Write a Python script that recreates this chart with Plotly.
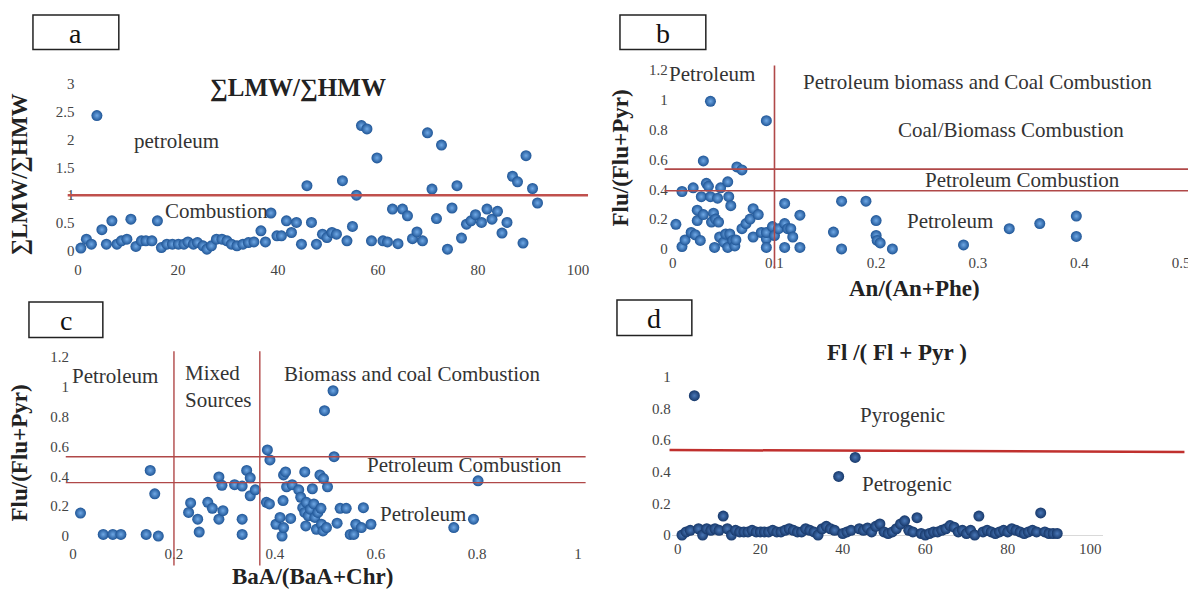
import plotly.graph_objects as go

W, H = 1196, 600
OFF = 8                      # default page margin of the html body
FW, FH = W - OFF, H - OFF
SERIF = "Liberation Serif"

# ---------------- data ----------------
# panel a : sum LMW / sum HMW per sample
a_x = [0.6, 1.7, 2.7, 3.8, 4.8, 5.7, 6.8, 7.8, 8.7, 9.8, 10.6, 11.6, 12.7, 13.6, 14.8, 15.9,
       16.7, 17.8, 18.9, 20.1, 21.2, 22.0, 23.1, 23.9, 25.0, 25.8, 26.7, 27.7, 28.8, 29.8, 30.7,
       31.8, 33.0, 34.1, 35.2, 36.6, 37.5, 38.6, 39.8, 40.7, 41.7, 42.7, 43.7, 44.7, 45.8, 46.7,
       47.7, 48.9, 49.8, 50.8, 51.7, 52.9, 53.8, 54.9, 55.7, 56.7, 57.8, 58.7, 59.8, 61.0, 61.9,
       62.9, 64.0, 64.9, 65.9, 66.9, 67.8, 68.9, 69.9, 70.8, 71.7, 72.7, 73.9, 74.8, 75.8, 76.7,
       77.7, 78.6, 79.5, 80.7, 81.8, 82.8, 83.9, 84.8, 85.8, 86.9, 87.9, 89.0, 89.6, 90.9, 91.9]
a_y = [0.05, 0.21, 0.12, 2.43, 0.38, 0.12, 0.54, 0.12, 0.18, 0.21, 0.57, 0.08, 0.18, 0.18, 0.18, 0.54,
       0.06, 0.12, 0.12, 0.12, 0.12, 0.16, 0.12, 0.15, 0.09, 0.03, 0.09, 0.21, 0.21, 0.18, 0.12,
       0.09, 0.12, 0.15, 0.16, 0.36, 0.16, 0.68, 0.27, 0.27, 0.54, 0.33, 0.51, 0.12, 1.17, 0.51,
       0.12, 0.30, 0.24, 0.33, 0.30, 1.26, 0.18, 0.44, 1.00, 2.25, 2.19, 0.18, 1.67, 0.18, 0.16,
       0.75, 0.13, 0.75, 0.63, 0.22, 0.34, 0.18, 2.12, 1.11, 0.58, 1.90, 0.03, 0.77, 1.17, 0.23,
       0.48, 0.54, 0.65, 0.51, 0.75, 0.57, 0.71, 0.32, 0.51, 1.34, 1.24, 0.14, 1.71, 1.12, 0.86]

# panel b : An/(An+Phe) vs Flu/(Flu+Pyr)
b_x = [0.003, 0.009, 0.009, 0.012, 0.018, 0.020, 0.022, 0.024, 0.024, 0.027, 0.028, 0.030, 0.030,
       0.033, 0.035, 0.037, 0.037, 0.038, 0.040, 0.041, 0.042, 0.044, 0.045, 0.046, 0.047, 0.050,
       0.052, 0.054, 0.054, 0.055, 0.056, 0.057, 0.059, 0.061, 0.062, 0.063, 0.068, 0.068, 0.072,
       0.076, 0.079, 0.079, 0.084, 0.087, 0.092, 0.092, 0.092, 0.092, 0.098, 0.100, 0.104, 0.110,
       0.110, 0.110, 0.113, 0.116, 0.118, 0.125, 0.125, 0.158, 0.166, 0.166, 0.190, 0.200, 0.200,
       0.201, 0.204, 0.216, 0.286, 0.331, 0.361, 0.397, 0.397]
b_y = [0.165, 0.385, 0.016, 0.060, 0.110, 0.410, 0.095, 0.260, 0.190, 0.057, 0.350, 0.590, 0.230,
       0.440, 0.420, 0.990, 0.350, 0.180, 0.240, 0.010, 0.200, 0.340, 0.180, 0.080, 0.410, 0.045,
       0.100, 0.450, 0.010, 0.350, 0.100, 0.290, 0.057, 0.020, 0.060, 0.550, 0.530, 0.136, 0.170,
       0.200, 0.080, 0.270, 0.230, 0.110, 0.860, 0.068, 0.010, 0.110, 0.150, 0.090, 0.136, 0.305,
       0.010, 0.170, 0.136, 0.136, 0.080, 0.226, 0.010, 0.113, 0.320, 0.000, 0.320, 0.190, 0.090,
       0.057, 0.040, 0.000, 0.027, 0.136, 0.170, 0.220, 0.084]

# panel c : BaA/(BaA+Chr) vs Flu/(Flu+Pyr)
c_x = [0.015, 0.060, 0.079, 0.095, 0.145, 0.153, 0.162, 0.169, 0.229, 0.233, 0.247, 0.250, 0.267,
       0.276, 0.289, 0.289, 0.295, 0.297, 0.320, 0.335, 0.335, 0.335, 0.344, 0.351, 0.351, 0.361,
       0.383, 0.385, 0.389, 0.390, 0.402, 0.410, 0.414, 0.416, 0.417, 0.417, 0.421, 0.423, 0.431,
       0.434, 0.447, 0.451, 0.459, 0.455, 0.459, 0.461, 0.462, 0.466, 0.470, 0.474, 0.477, 0.479,
       0.482, 0.485, 0.489, 0.491, 0.492, 0.495, 0.496, 0.498, 0.504, 0.502, 0.515, 0.517, 0.523,
       0.529, 0.541, 0.549, 0.556, 0.560, 0.571, 0.575, 0.590, 0.754, 0.793, 0.802]
c_y = [0.154, 0.011, 0.011, 0.011, 0.011, 0.440, 0.283, 0.000, 0.158, 0.222, 0.113, 0.027, 0.226,
       0.186, 0.396, 0.113, 0.340, 0.170, 0.344, 0.335, 0.113, 0.011, 0.440, 0.390, 0.270, 0.310,
       0.226, 0.577, 0.215, 0.510, 0.079, 0.125, 0.000, 0.238, 0.057, 0.410, 0.430, 0.330, 0.118,
       0.344, 0.310, 0.260, 0.430, 0.190, 0.158, 0.068, 0.226, 0.136, 0.180, 0.317, 0.215, 0.125,
       0.045, 0.158, 0.410, 0.186, 0.079, 0.034, 0.385, 0.840, 0.330, 0.057, 0.974, 0.532, 0.086,
       0.186, 0.186, 0.011, 0.011, 0.079, 0.057, 0.190, 0.079, 0.057, 0.113, 0.370]

# panel d : Fl/(Fl+Pyr) per sample
d_x = list(range(1, 93))
d_y = [0.00, 0.02, 0.03, 0.88, 0.04, 0.00, 0.04, 0.03, 0.04, 0.03, 0.12, 0.04, 0.00, 0.03, 0.02,
       0.02, 0.02, 0.03, 0.02, 0.02, 0.02, 0.02, 0.03, 0.02, 0.02, 0.03, 0.04, 0.03, 0.02, 0.02,
       0.04, 0.03, 0.02, 0.00, 0.04, 0.055, 0.04, 0.03, 0.37, 0.01, 0.02, 0.03, 0.49, 0.04, 0.03,
       0.045, 0.02, 0.055, 0.07, 0.02, 0.01, 0.02, 0.04, 0.07, 0.09, 0.03, 0.02, 0.11, 0.01, 0.00,
       0.01, 0.02, 0.02, 0.03, 0.04, 0.06, 0.05, 0.02, 0.03, 0.01, 0.03, 0.00, 0.12, 0.02, 0.03,
       0.02, 0.01, 0.02, 0.03, 0.02, 0.04, 0.03, 0.02, 0.01, 0.02, 0.03, 0.02, 0.14, 0.02, 0.01,
       0.01, 0.01]

# thresholds
a_line = 1.0
b_vline = 0.1
b_hlines = [0.535, 0.39]
c_vlines = [0.2, 0.37]
c_hlines = [0.532, 0.358]
d_line = (0.537, 0.525)


# ---------------- figure ----------------
def px(x):
    return (x - OFF) / FW


def py(y):
    return 1 - (y - OFF) / FH


fig = go.Figure()


def add_pts(x, y, xa, ya, edge, center):
    fig.add_trace(go.Scatter(
        x=x, y=y, mode="markers", xaxis=xa, yaxis=ya, cliponaxis=False,
        marker=dict(size=11, color=edge, line=dict(width=0),
                    gradient=dict(type="radial", color=center)),
        showlegend=False, hoverinfo="skip"))


BLUE_E, BLUE_C = "#1f5596", "#70a9e6"
NAVY_E, NAVY_C = "#17386a", "#4a78b8"
add_pts(a_x, a_y, "x", "y", BLUE_E, BLUE_C)
add_pts(b_x, b_y, "x2", "y2", BLUE_E, BLUE_C)
add_pts(c_x, c_y, "x3", "y3", BLUE_E, BLUE_C)
add_pts(d_x, d_y, "x4", "y4", NAVY_E, NAVY_C)

tickf = dict(family=SERIF, size=15, color="#444")


def ax(domain, rng, dtick, anchor, **kw):
    d = dict(domain=domain, range=rng, dtick=dtick, tick0=0, anchor=anchor, showgrid=False,
             zeroline=False, showline=False, ticks="", tickfont=tickf, fixedrange=True,
             ticklabeloverflow="allow")
    d.update(kw)
    return d


layout = dict(
    width=FW, height=FH, margin=dict(l=0, r=0, t=0, b=0),
    paper_bgcolor="white", plot_bgcolor="white",
    xaxis=ax([px(74.5), px(588)], [-0.5, 102], 20, "y"),
    yaxis=ax([py(257.9), py(77.2)], [-0.14, 3.05], 0.5, "x"),
    xaxis2=ax([px(668.9), px(1193.2)], [-0.004, 0.511], 0.1, "y2"),
    yaxis2=ax([py(251), py(61.4)], [-0.02, 1.23], 0.2, "x2"),
    xaxis3=ax([px(69), px(585.6)], [-0.006, 1.015], 0.2, "y3"),
    yaxis3=ax([py(547), py(353.4)], [-0.046, 1.23], 0.2, "x3"),
    xaxis4=ax([px(671.8), px(1103.4)], [-1.5, 103], 20, "y4"),
    yaxis4=ax([py(542.1), py(369.9)], [-0.019, 1.05], 0.2, "x4",
              zeroline=True, zerolinecolor="#d9d9d9", zerolinewidth=1),
)
fig.update_layout(**layout)

RED_THICK = "#c0504d"
RED_THIN = "#b04848"
shapes = []
shapes.append(dict(type="line", xref="x domain", yref="y", x0=-0.015, x1=1.0,
                   y0=a_line, y1=a_line, line=dict(color=RED_THICK, width=2.5)))
shapes.append(dict(type="line", xref="x2", yref="y2 domain", x0=b_vline, x1=b_vline,
                   y0=-0.09, y1=1.0, line=dict(color=RED_THIN, width=1.6)))
for v in b_hlines:
    shapes.append(dict(type="line", xref="x2 domain", yref="y2", x0=-0.008, x1=1.0,
                       y0=v, y1=v, line=dict(color=RED_THIN, width=1.6)))
for v in c_vlines:
    shapes.append(dict(type="line", xref="x3", yref="y3 domain", x0=v, x1=v,
                       y0=-0.119, y1=1.007, line=dict(color=RED_THIN, width=1.4)))
for v in c_hlines:
    shapes.append(dict(type="line", xref="x3 domain", yref="y3", x0=-0.008, x1=1.0,
                       y0=v, y1=v, line=dict(color=RED_THIN, width=1.4)))
shapes.append(dict(type="line", xref="x4 domain", yref="y4", x0=-0.005, x1=1.19,
                   y0=d_line[0], y1=d_line[1], line=dict(color="#c0302e", width=2.5)))

# panel letter boxes
boxes = [("a", 32, 10, 118, 45), ("b", 620, 10, 706, 45),
         ("c", 28, 302, 102, 338), ("d", 617, 300, 692, 336)]
annotations = []
for letter, x0, y0, x1, y1 in boxes:
    shapes.append(dict(type="rect", xref="paper", yref="paper", x0=px(x0), x1=px(x1),
                       y0=py(y1), y1=py(y0), line=dict(color="#222", width=1.5),
                       fillcolor="white"))
    annotations.append(dict(xref="paper", yref="paper", x=px((x0 + x1) / 2),
                            y=py((y0 + y1) / 2 + 1), text=letter, showarrow=False,
                            font=dict(family=SERIF, size=28, color="#111"),
                            xanchor="center", yanchor="middle"))

TXT = dict(family=SERIF, size=21, color="#333")
BOLD = dict(family=SERIF, size=23, color="#222")


def note(x, y, text, xref, yref, font=TXT, **kw):
    d = dict(x=x, y=y, text=text, xref=xref, yref=yref, showarrow=False, font=font,
             xanchor="center", yanchor="middle")
    d.update(kw)
    annotations.append(d)


# panel a
note(px(297), py(84), "<b>∑LMW/∑HMW</b>", "paper", "paper",
     dict(family=SERIF, size=25, color="#222"))
note(19.8, 1.98, "petroleum", "x", "y")
note(27.8, 0.72, "Combustion", "x", "y")
note(px(18), py(172), "<b>∑LMW/∑HMW</b>", "paper", "paper", BOLD, textangle=-90)
# panel b
note(0.039, 1.17, "Petroleum", "x2", "y2")
note(0.300, 1.12, "Petroleum biomass and Coal Combustion", "x2", "y2")
note(0.333, 0.80, "Coal/Biomass Combustion", "x2", "y2")
note(0.344, 0.464, "Petroleum Combustion", "x2", "y2")
note(0.273, 0.186, "Petroleum", "x2", "y2")
note(px(621), py(155), "<b>Flu/(Flu+Pyr)</b>", "paper", "paper", BOLD, textangle=-90)
note(px(915), py(288), "<b>An/(An+Phe)</b>", "paper", "paper", BOLD)
# panel c
note(0.083, 1.075, "Petroleum", "x3", "y3")
note(0.218, 1.005, "Mixed<br>Sources", "x3", "y3", xanchor="left", align="left")
note(0.672, 1.085, "Biomass and coal Combustion", "x3", "y3")
note(0.776, 0.475, "Petroleum Combustion", "x3", "y3")
note(0.693, 0.15, "Petroleum", "x3", "y3")
note(px(18), py(455), "<b>Flu/(Flu+Pyr)</b>", "paper", "paper", BOLD, textangle=-90)
note(px(312), py(581), "<b>BaA/(BaA+Chr)</b>", "paper", "paper", BOLD)
# panel d
note(px(897), py(353), "<b>Fl /( Fl + Pyr )</b>", "paper", "paper", BOLD)
note(54.5, 0.76, "Pyrogenic", "x4", "y4")
note(55.5, 0.325, "Petrogenic", "x4", "y4")

fig.update_layout(shapes=shapes, annotations=annotations)
fig.write_html("out.html")
